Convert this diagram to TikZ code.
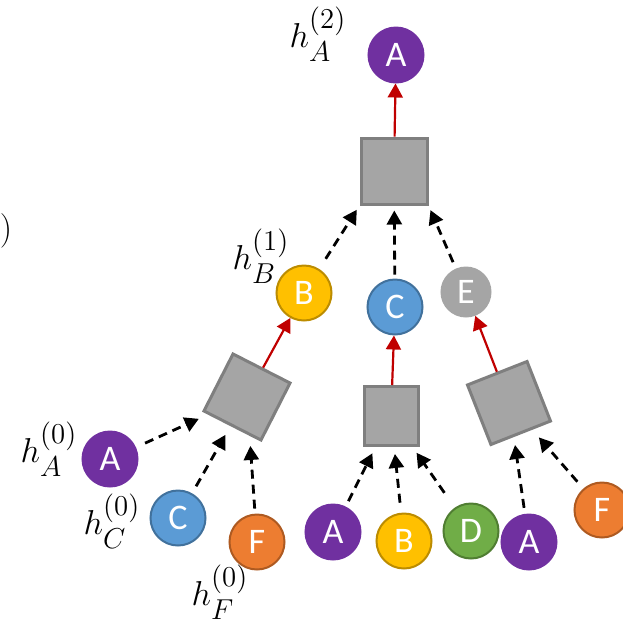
\documentclass[tikz,border=0pt]{standalone}
\usepackage{amsmath}
\usepackage{fontspec}
\newfontfamily\circfont{Carlito}
\usetikzlibrary{positioning, arrows.meta}
\DeclareMathSizes{17}{17}{15}{11}

\definecolor{vpurple}{HTML}{7030A0}
\definecolor{vblue}{HTML}{5B9BD5}
\definecolor{vblueedge}{HTML}{41719C}
\definecolor{vyellow}{HTML}{FFC000}
\definecolor{vyellowedge}{HTML}{BC8C00}
\definecolor{vorange}{HTML}{ED7D31}
\definecolor{vorangeedge}{HTML}{AE5A21}
\definecolor{vgreen}{HTML}{70AD47}
\definecolor{vgreenedge}{HTML}{507E32}
\definecolor{vgray}{HTML}{A5A5A5}
\definecolor{sqedge}{HTML}{7F7F7F}
\definecolor{vred}{HTML}{C00000}

\begin{document}
\begin{tikzpicture}[
		x=0.5pt, y=-0.5pt,
		vertex/.style={circle, minimum size=27.5pt, inner sep=0pt, line width=1pt, text=white, font=\circfont\fontsize{18}{20}\selectfont},
		vA/.style={vertex, fill=vpurple, draw=vpurple},
		vB/.style={vertex, fill=vyellow, draw=vyellowedge},
		vC/.style={vertex, fill=vblue, draw=vblueedge},
		vD/.style={vertex, fill=vgreen, draw=vgreenedge},
		vE/.style={vertex, fill=vgray, draw=vgray, minimum size=24.5pt},
		vF/.style={vertex, fill=vorange, draw=vorangeedge},
		agg/.style={rectangle, draw=sqedge, fill=vgray, line width=1.5pt, minimum size=32pt, inner sep=0pt},
		feed/.style={line width=1.4pt, dash pattern=on 4.5pt off 3pt, -{Triangle[length=7pt,width=7.5pt]}, shorten <=4pt, shorten >=4pt},
		push/.style={line width=1.1pt, color=vred, -{Triangle[length=7pt,width=7.5pt]}},
		hlab/.style={font=\fontsize{17}{20}\selectfont}
		]
		\useasboundingbox (0,0) rectangle (623,623);
		
		% Nodes
		\node (a2) [vA] at (396,55) {A};
		\node (sq0) [agg, minimum size=33pt] at (394,171) {};
		
		\node (b1) [vB] at (304,293) {B};
		\node (c1) [vC] at (395,307) {C};
		\node (e1) [vE] at (466,292) {E};
		
		\node (sq1) [agg, rotate=-27] at (247,397) {};
		\node (sq2) [agg, minimum width=27pt, minimum height=29.5pt] at (391,416) {};
		\node (sq3) [agg, rotate=21.5] at (509,403) {};
		
		\node (a0) [vA] at (110,459) {A};
		\node (c0) [vC] at (178,518) {C};
		\node (f0) [vF] at (257,542) {F};
		\node (a3) [vA] at (333,532) {A};
		\node (b3) [vB] at (404,541) {B};
		\node (d3) [vD] at (471,531) {D};
		\node (a4) [vA] at (529,542) {A};
		\node (f4) [vF] at (602,510) {F};
		
		% Labels
		\node (la2) [hlab] at (318,34) {$h_A^{(2)}$};
		\node (lb1) [hlab] at (261,256) {$h_B^{(1)}$};
		\node (la0) [hlab] at (49,449) {$h_A^{(0)}$};
		\node (lc0) [hlab] at (112,521) {$h_C^{(0)}$};
		\node (lf0) [hlab] at (220,592) {$h_F^{(0)}$};
		\node (cut) [hlab, font=\fontsize{19}{21}\selectfont] at (6,231) {$)$};
		
		% Arrows
		\draw [push] (sq0) -- (a2);
		\draw [push] (sq1) -- (b1);
		\draw [push] (sq2) -- (c1);
		\draw [push] (sq3) -- (e1);
		
		\draw [feed, shorten <=6pt, shorten >=2.5pt] (b1) -- (sq0.south west);
		\draw [feed, shorten <=2pt, shorten >=2.5pt] (c1) -- (sq0);
		\draw [feed, shorten <=3.5pt, shorten >=2.5pt] (e1) -- (sq0.south east);
		
		\draw [feed, shorten <=5pt, shorten >=5pt] (a0) -- (sq1);
		\draw [feed, shorten >=5pt] (c0) -- (sq1);
		\draw [feed, shorten <=2.5pt, shorten >=5pt] (f0) -- (sq1);
		
		\draw [feed, shorten <=3pt, shorten >=3.5pt] (a3) -- (sq2);
		\draw [feed, shorten <=5pt, shorten >=3.5pt] (b3) -- (sq2);
		\draw [feed, shorten <=9pt, shorten >=3.5pt] (d3) -- (sq2);
		
		\draw [feed, shorten <=3pt] (a4) -- (sq3);
		\draw [feed, shorten <=4.5pt, shorten >=5pt] (f4) -- (sq3);
		
	\end{tikzpicture}
\end{document}
